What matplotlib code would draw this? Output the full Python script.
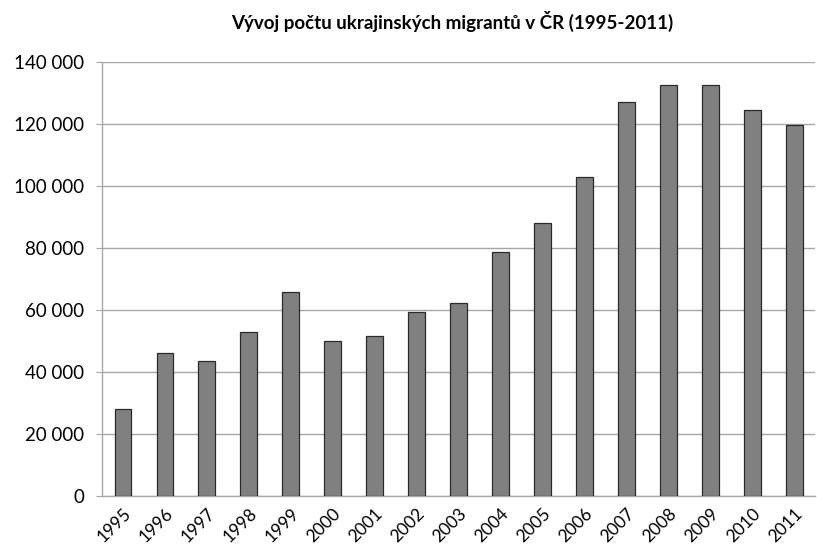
import matplotlib
matplotlib.use("Agg")
import matplotlib.pyplot as plt
from matplotlib.ticker import FuncFormatter, MultipleLocator

years = ["1995", "1996", "1997", "1998", "1999", "2000", "2001", "2002", "2003",
         "2004", "2005", "2006", "2007", "2008", "2009", "2010", "2011"]
migrants = [28000, 46200, 43500, 52800, 65700, 50000, 51700, 59300, 62300,
            78700, 87900, 103000, 127100, 132600, 132600, 124600, 119500]
title = "Vývoj počtu ukrajinských migrantů v ČR (1995-2011)"

plt.rcParams['font.family'] = ['Lato', 'DejaVu Sans']

fig = plt.figure(figsize=(8.17, 5.57), dpi=100)
ax = fig.add_axes([0.1248, 0.1095, 0.873, 0.7795])

x = list(range(len(years)))
ax.bar(x, migrants, width=0.4, color="#808080", edgecolor="#2a2a2a", linewidth=0.9, zorder=3)

ax.set_xlim(-0.5, len(years) - 0.5)
ax.set_ylim(0, 140000)
ax.yaxis.set_major_locator(MultipleLocator(20000))
ax.yaxis.set_major_formatter(FuncFormatter(lambda v, p: f"{int(v):,}".replace(",", " ")))
ax.grid(axis="y", color="#a6a6a6", linewidth=1.0, zorder=0)

ax.set_xticks(x)
ax.set_xticklabels(years, rotation=45, ha="right", rotation_mode="anchor", fontsize=12.5)
ax.tick_params(axis="x", length=0, pad=7)
ax.tick_params(axis="y", labelsize=13.5, length=4, color="#a6a6a6", pad=9, direction="out")

for s in ["top", "right"]:
    ax.spines[s].set_visible(False)
for s in ["left", "bottom"]:
    ax.spines[s].set_color("#a6a6a6")
    ax.spines[s].set_linewidth(1.0)

fig.text(0.553, 0.962, title, ha="center", va="center", fontsize=13.5, fontweight="bold")

fig.savefig("out.png", dpi=100)
